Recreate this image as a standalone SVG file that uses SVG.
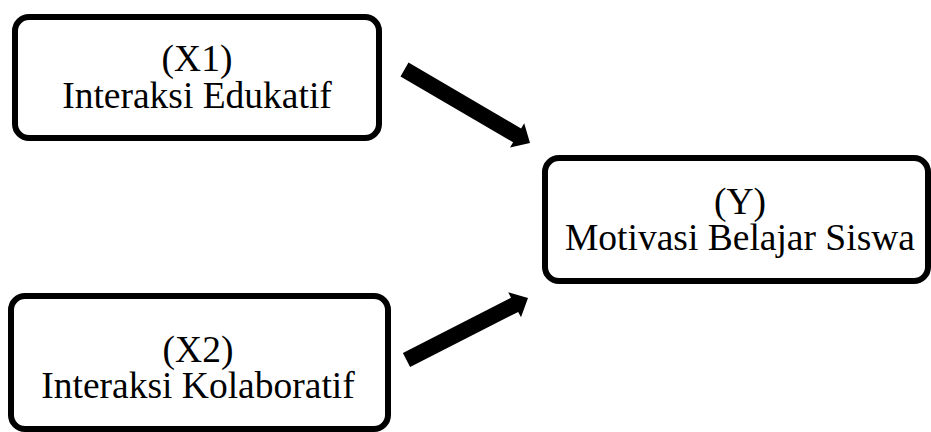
<svg xmlns="http://www.w3.org/2000/svg" width="931" height="432" viewBox="0 0 931 432">
<style>
.box{fill:#fff;stroke:#000;stroke-width:6}
.t{font-family:"Liberation Serif";font-size:37.5px;fill:#000;text-anchor:middle}
.arr{fill:#000;stroke:none}
</style>
<rect width="931" height="432" fill="#fff"/>
<g id="x1">
<rect class="box" x="15" y="17" width="364" height="121" rx="14"/>
<text class="t" x="197" y="71">(X1)</text>
<text class="t" x="197" y="108">Interaksi Edukatif</text>
</g>
<g id="x2">
<rect class="box" x="11" y="296" width="377" height="133" rx="14"/>
<text class="t" x="198" y="362">(X2)</text>
<text class="t" x="198" y="398">Interaksi Kolaboratif</text>
</g>
<g id="y">
<rect class="box" x="545" y="158" width="383" height="123" rx="14"/>
<text class="t" x="740" y="214">(Y)</text>
<text class="t" x="740" y="250">Motivasi Belajar Siswa</text>
</g>
<g id="connectors">
<polygon class="arr" points="408.5,62.6 521.1,128.5 524.2,123.3 530,143 510,147.5 513.1,142.3 400.5,76.4"/>
<polygon class="arr" points="402.9,352.9 511.0,297.7 508.2,292.3 528,298 521.0,317.3 518.2,311.9 410.1,367.1"/>
</g>
</svg>
